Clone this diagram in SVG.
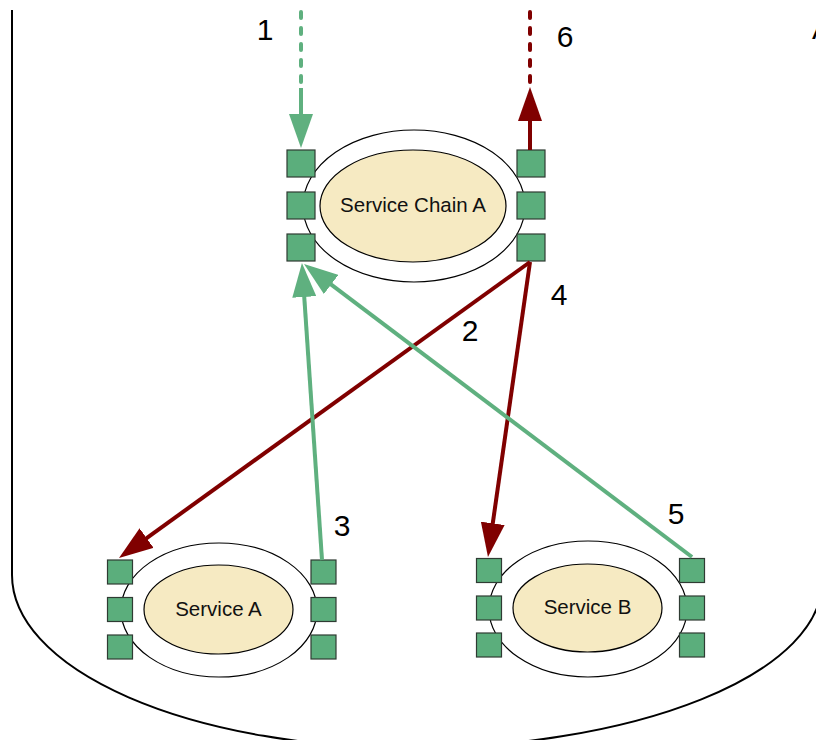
<svg xmlns="http://www.w3.org/2000/svg" width="816" height="740" viewBox="0 0 816 740">
  <style>
    .outer { fill: #ffffff; stroke: #000000; stroke-width: 1.2; }
    .inner { fill: #f6eac2; stroke: #000000; stroke-width: 1.2; }
    .port { fill: #5bae7c; stroke: #2f3b33; stroke-width: 1.2; }
    .name { font-family: "Liberation Sans", Arial, sans-serif; font-size: 20.5px; fill: #111111; text-anchor: middle; }
    .num { font-family: "Liberation Sans", Arial, sans-serif; font-size: 30px; fill: #000000; text-anchor: middle; }
    .green { stroke: #5fb07f; stroke-width: 4; fill: none; }
    .red { stroke: #800000; stroke-width: 4; fill: none; }
    .dots { stroke-dasharray: 6 10; stroke-linecap: round; }
  </style>
  <defs>
    <marker id="headGreen" viewBox="0 0 34 24" refX="26" refY="12" markerWidth="34" markerHeight="24" markerUnits="userSpaceOnUse" orient="auto">
      <path d="M0,0 L34,12 L0,24 Z" fill="#5fb07f"/>
    </marker>
    <marker id="headRed" viewBox="0 0 34 24" refX="26" refY="12" markerWidth="34" markerHeight="24" markerUnits="userSpaceOnUse" orient="auto">
      <path d="M0,0 L34,12 L0,24 Z" fill="#800000"/>
    </marker>
  </defs>

  <rect width="816" height="740" fill="#ffffff"/>

  <!-- enclosing boundary -->
  <path d="M12,10 V575 A398,173 0 0 0 410,748 A412,166 0 0 0 822,582 V40" fill="none" stroke="#000000" stroke-width="2"/>
  <text x="812" y="39" font-family="'Liberation Sans', Arial, sans-serif" font-size="30" fill="#000000">A</text>

  <!-- Service Chain A -->
  <g id="service-chain-a">
    <ellipse class="outer" cx="414" cy="206" rx="111" ry="76"/>
    <ellipse class="inner" cx="413" cy="206" rx="93" ry="56"/>
    <text class="name" x="413" y="212">Service Chain A</text>
    <rect class="port" x="287" y="150" width="28" height="27"/>
    <rect class="port" x="287" y="192" width="28" height="27"/>
    <rect class="port" x="287" y="234" width="28" height="27"/>
    <rect class="port" x="517" y="150" width="28" height="27"/>
    <rect class="port" x="517" y="192" width="28" height="27"/>
    <rect class="port" x="517" y="234" width="28" height="27"/>
  </g>

  <!-- Service A -->
  <g id="service-a">
    <ellipse class="outer" cx="219" cy="610" rx="98" ry="67"/>
    <ellipse class="inner" cx="218.5" cy="609.5" rx="74.5" ry="44.5"/>
    <text class="name" x="218.5" y="616">Service A</text>
    <rect class="port" x="107.5" y="560" width="25" height="24"/>
    <rect class="port" x="107.5" y="597.5" width="25" height="24"/>
    <rect class="port" x="107.5" y="635" width="25" height="24"/>
    <rect class="port" x="311" y="560" width="25" height="24"/>
    <rect class="port" x="311" y="597.5" width="25" height="24"/>
    <rect class="port" x="311" y="635" width="25" height="24"/>
  </g>

  <!-- Service B -->
  <g id="service-b">
    <ellipse class="outer" cx="588" cy="609" rx="99" ry="68"/>
    <ellipse class="inner" cx="587.5" cy="608" rx="74.5" ry="44"/>
    <text class="name" x="587.5" y="614">Service B</text>
    <rect class="port" x="476.5" y="558.5" width="25" height="24"/>
    <rect class="port" x="476.5" y="596" width="25" height="24"/>
    <rect class="port" x="476.5" y="633" width="25" height="24"/>
    <rect class="port" x="679.5" y="558.5" width="25" height="24"/>
    <rect class="port" x="679.5" y="596" width="25" height="24"/>
    <rect class="port" x="679.5" y="633" width="25" height="24"/>
  </g>

  <!-- connectors -->
  <g id="connectors">
    <!-- 1: ingress into the chain -->
    <line class="green dots" x1="301" y1="12" x2="301" y2="84"/>
    <line class="green" x1="301" y1="88" x2="301" y2="140" marker-end="url(#headGreen)"/>
    <!-- 2: chain to Service A -->
    <line class="red" x1="530" y1="262" x2="125.5" y2="553.3" marker-end="url(#headRed)"/>
    <!-- 3: Service A back to chain -->
    <line class="green" x1="322" y1="560" x2="302.5" y2="271" marker-end="url(#headGreen)"/>
    <!-- 4: chain to Service B -->
    <line class="red" x1="530" y1="262" x2="489.1" y2="549.1" marker-end="url(#headRed)"/>
    <!-- 5: Service B back to chain -->
    <line class="green" x1="692" y1="557" x2="310.4" y2="268.8" marker-end="url(#headGreen)"/>
    <!-- 6: egress from the chain -->
    <line class="red" x1="530" y1="150" x2="530" y2="95" marker-end="url(#headRed)"/>
    <line class="red dots" x1="530" y1="12" x2="530" y2="82"/>
  </g>

  <!-- step numbers -->
  <g id="labels">
    <text class="num" x="265" y="40">1</text>
    <text class="num" x="470" y="341">2</text>
    <text class="num" x="342" y="536">3</text>
    <text class="num" x="559" y="305">4</text>
    <text class="num" x="676" y="524">5</text>
    <text class="num" x="565" y="47">6</text>
  </g>
</svg>
